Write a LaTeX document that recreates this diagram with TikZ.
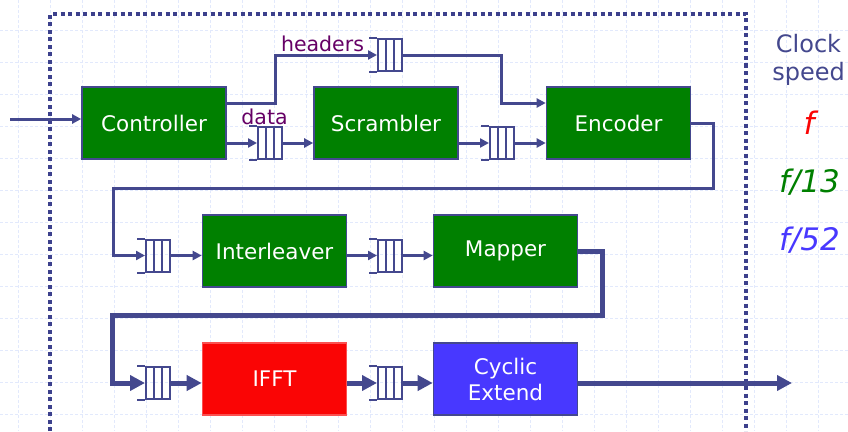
\documentclass[tikz,border=0pt]{standalone}
\usepackage{fontspec}
\setmainfont{DejaVu Sans}
\usetikzlibrary{arrows.meta}

\definecolor{linecol}{RGB}{68,72,142}
\definecolor{framecol}{RGB}{60,64,140}
\definecolor{gridcol}{RGB}{226,233,252}
\definecolor{stagegreen}{RGB}{0,128,0}
\definecolor{fftred}{RGB}{250,5,5}
\definecolor{cycblue}{RGB}{72,56,255}
\definecolor{labelpurple}{RGB}{102,0,102}

\tikzset{
  gridline/.style={draw=gridcol, line width=0.7pt, dash pattern=on 3pt off 2pt},
  stagebox/.style={draw=linecol, line width=1.6pt, minimum width=144pt, minimum height=72pt,
    inner sep=0pt, text=white, align=center, font=\fontsize{21.5}{26}\selectfont},
  greenbox/.style={stagebox, fill=stagegreen},
  fifo/.style={draw=linecol, line width=2pt, minimum width=24pt, minimum height=32pt,
    inner sep=0pt, path picture={
      \draw[linecol, line width=2pt]
        ([xshift=8pt]path picture bounding box.south west) -- ([xshift=8pt]path picture bounding box.north west)
        ([xshift=16pt]path picture bounding box.south west) -- ([xshift=16pt]path picture bounding box.north west);}},
  arr/.style={draw=linecol, line width=3pt, -{Triangle[length=9pt,width=9pt]}},
  tarr/.style={draw=linecol, line width=5pt, -{Triangle[length=15pt,width=15pt]}},
  tag/.style={text=labelpurple, font=\fontsize{20.5}{24}\selectfont, anchor=base, inner sep=0pt},
  rate/.style={font=\fontsize{31}{36}\selectfont\itshape, anchor=base, inner sep=0pt}
}

\begin{document}
\begin{tikzpicture}[x=1pt, y=-1pt]
  \useasboundingbox (0,0) rectangle (848,431);
  \fill[white] (0,0) rectangle (848,431);

  % background grid
  \foreach \gx in {18,50,...,850} \draw[gridline] (\gx,0) -- (\gx,431);
  \foreach \gy in {30,62,...,431} \draw[gridline] (0,\gy) -- (848,\gy);

  % dotted boundary of the transmitter
  \draw[framecol, line width=4pt, dash pattern=on 4pt off 3.5pt]
    (50,431) -- (50,14) -- (746,14) -- (746,431);

  % processing stages
  \node[greenbox] (ctrl) at (154,123) {Controller};
  \node[greenbox] (scr)  at (386,123) {Scrambler};
  \node[greenbox] (enc)  at (618.5,123) {Encoder};
  \node[greenbox] (intl) at (274.5,251) {Interleaver};
  \node[greenbox] (map)  at (505.5,251) {Mapper};
  \node[stagebox, fill=fftred, draw=fftred!70!white] (ifft) at (274.5,379) {IFFT};
  \node[stagebox, fill=cycblue] (cyc) at (505.5,379) {Cyclic\\Extend};

  % FIFO buffers
  \node[fifo] (qd) at (270,143) {};
  \node[fifo] (qh) at (390,55) {};
  \node[fifo] (qs) at (502,143) {};
  \node[fifo] (qi) at (158,255.5) {};
  \node[fifo] (qm) at (390,255.5) {};
  \node[fifo] (qf) at (158,383) {};
  \node[fifo] (qc) at (390,383) {};
  \foreach \q in {qd,qh,qs,qi,qm,qf,qc}
    \draw[linecol, line width=2pt]
      (\q.north west) -- ([xshift=-8pt]\q.north west)
      (\q.south west) -- ([xshift=-8pt]\q.south west);

  % free ends and bends
  \coordinate (in)    at (10,119);
  \coordinate (out)   at (792,383);
  \coordinate (turnA) at (113,188);
  \coordinate (turnB) at (112.5,315);

  % connectors
  \draw[arr] (in) -- (ctrl.west |- in);
  \draw[arr] (ctrl.east |- qd.west) -- (qd.west);
  \draw[arr] (qd.east) -- (scr.west |- qd.east);
  \draw[arr] ([yshift=20pt]ctrl.east) -- ++(49,0) |- (qh.west);
  \draw[arr] (qh.east) -| ([xshift=-44pt,yshift=20pt]enc.west) -- ([yshift=20pt]enc.west);
  \draw[arr] (scr.east |- qs.west) -- (qs.west);
  \draw[arr] (qs.east) -- (enc.west |- qs.east);
  \draw[arr] (enc.east) -- ++(22,0) |- (turnA) |- (qi.west);
  \draw[arr] (qi.east) -- (intl.west |- qi.east);
  \draw[arr] (intl.east |- qm.west) -- (qm.west);
  \draw[arr] (qm.east) -- (map.west |- qm.east);
  \draw[tarr] (map.east) -- ++(24,0) |- (turnB) |- (qf.west);
  \draw[tarr] (qf.east) -- (ifft.west |- qf.east);
  \draw[tarr] (ifft.east |- qc.west) -- (qc.west);
  \draw[tarr] (qc.east) -- (cyc.west |- qc.east);
  \draw[tarr] (cyc.east |- qc.east) -- (out);

  % stream labels
  \node[tag] (hdr) at (322.5,51.5) {headers};
  \node[tag] (dat) at (264.5,124) {data};

  % clock rates
  \node[text=linecol, font=\fontsize{24}{28}\selectfont, anchor=base, inner sep=0pt] (clk1) at (808.5,52) {Clock};
  \node[text=linecol, font=\fontsize{24}{28}\selectfont, anchor=base, inner sep=0pt] (clk2) at (808.5,80) {speed};
  \node[rate, text=fftred] (r1) at (809,134) {f};
  \node[rate, text=stagegreen] (r2) at (809.5,192) {f/13};
  \node[rate, text=cycblue] (r3) at (809.5,250) {f/52};
\end{tikzpicture}
\end{document}
